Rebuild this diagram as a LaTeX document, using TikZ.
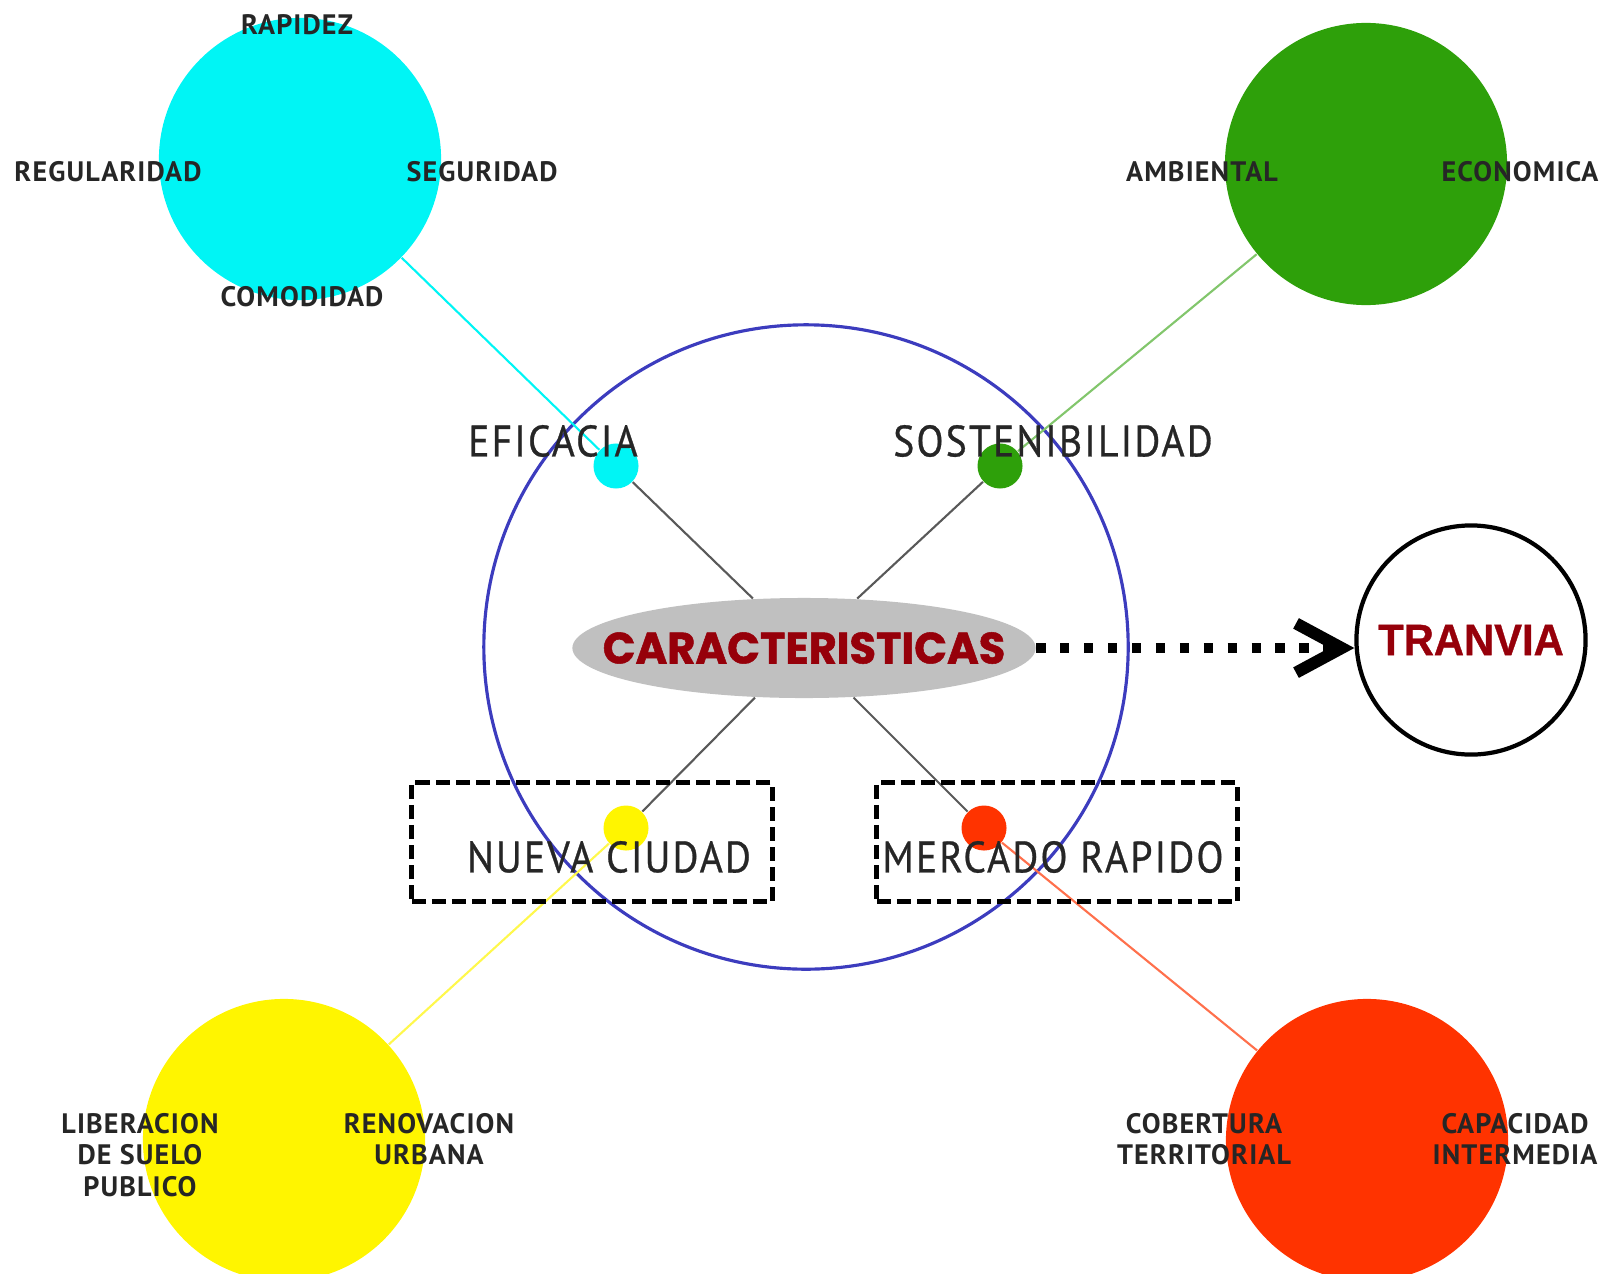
\documentclass[tikz,border=0pt]{standalone}
\usepackage{fontspec}
\usetikzlibrary{shapes.geometric,arrows.meta}
\newfontfamily\lblfont[LetterSpace=4]{PT Sans}
\newfontfamily\catfont[FakeStretch=0.9,LetterSpace=5,FakeBold=0.6]{PT Sans}
\newfontfamily\titfont[FakeStretch=0.98,FakeBold=1.2]{Poppins}
\newfontfamily\trafont[FakeStretch=0.95,FakeBold=0.8]{Liberation Sans}
\definecolor{cyanc}{RGB}{0,245,245}
\definecolor{greenc}{RGB}{46,160,10}
\definecolor{yellowc}{RGB}{255,245,0}
\definecolor{redc}{RGB}{255,51,0}
\definecolor{bluec}{RGB}{60,60,190}
\definecolor{darkred}{RGB}{150,0,10}
\definecolor{ellgray}{RGB}{192,192,192}
\tikzset{
  bigc/.style={circle, minimum size=2.82cm, inner sep=0pt},
  dotc/.style={circle, minimum size=0.45cm, inner sep=0pt},
  lbl/.style={font=\lblfont\bfseries\fontsize{8}{9}\selectfont, align=center, text=black!85, inner sep=0pt},
  cat/.style={font=\catfont\fontsize{12.5}{14}\selectfont, text=black!85, inner sep=0pt},
  dbox/.style={draw, line width=1.4pt, dash pattern=on 4pt off 1.7pt, minimum width=3.6cm, minimum height=1.19cm},
  spoke/.style={draw=black!65, line width=0.6pt},
}
\begin{document}
\begin{tikzpicture}[x=0.01cm, y=-0.01cm]
\useasboundingbox (0,0) rectangle (1607,1273);
% outer circles
\node[bigc, fill=cyanc] (cyanbig) at (300,159) {};
\node[bigc, fill=greenc] (greenbig) at (1366,164) {};
\node[bigc, fill=yellowc] (yellowbig) at (284,1140) {};
\node[bigc, fill=redc] (redbig) at (1367,1140) {};
% centre
\node[circle, draw=bluec, line width=0.9pt, minimum size=6.44cm] (ring) at (806,647) {};
\node[dotc, fill=cyanc] (cyandot) at (616,466) {};
\node[dotc, fill=greenc] (greendot) at (1000,466) {};
\node[dotc, fill=yellowc] (yellowdot) at (626,828) {};
\node[dotc, fill=redc] (reddot) at (984,828) {};
\node[ellipse, fill=ellgray, minimum width=4.63cm, minimum height=1cm, inner sep=0pt] (ell) at (804,648) {};
\node[circle, draw, line width=1.2pt, minimum size=2.29cm] (tram) at (1471,640) {};
% connectors
\draw[cyanc, line width=0.6pt] (cyanbig) -- (cyandot);
\draw[greenc!60, line width=0.6pt] (greenbig) -- (greendot);
\draw[yellowc!70, line width=0.6pt] (yellowbig) -- (yellowdot);
\draw[redc!70, line width=0.6pt] (redbig) -- (reddot);
\draw[spoke] (cyandot) -- (ell);
\draw[spoke] (greendot) -- (ell);
\draw[spoke] (yellowdot) -- (ell);
\draw[spoke] (reddot) -- (ell);
\draw[line width=2.6pt, dash pattern=on 2.6pt off 4.2pt, -{Straight Barb[length=13pt,width=14pt,line width=3.4pt]}] (ell.east) -- (ell.east -| tram.west);
% boxes
\node[dbox] (boxnc) at (592,842) {};
\node[dbox] (boxmr) at (1057,842) {};
% texts
\node[font=\titfont\bfseries\fontsize{12.5}{14}\selectfont, text=darkred] (cartxt) at (ell) {CARACTERISTICAS};
\node[font=\trafont\bfseries\fontsize{12.5}{14}\selectfont, text=darkred] (tratxt) at (tram) {TRANVIA};
\node[cat] (efi) at (553,441) {EFICACIA};
\node[cat] (sos) at (1053,441) {SOSTENIBILIDAD};
\node[cat] (nue) at (609,857) {NUEVA CIUDAD};
\node[cat] (mer) at (1053,857) {MERCADO RAPIDO};
\node[lbl] (rap) at (297,25) {RAPIDEZ};
\node[lbl] (reg) at (108,172) {REGULARIDAD};
\node[lbl] (seg) at (482,172) {SEGURIDAD};
\node[lbl] (com) at (302,297) {COMODIDAD};
\node[lbl] (amb) at (1202,172) {AMBIENTAL};
\node[lbl] (eco) at (1520,172) {ECONOMICA};
\node[lbl] (lib) at (140,1155) {LIBERACION\\DE SUELO\\PUBLICO};
\node[lbl] (ren) at (429,1139) {RENOVACION\\URBANA};
\node[lbl] (cob) at (1204,1139) {COBERTURA\\TERRITORIAL};
\node[lbl] (cap) at (1515,1139) {CAPACIDAD\\INTERMEDIA};
\end{tikzpicture}
\end{document}
